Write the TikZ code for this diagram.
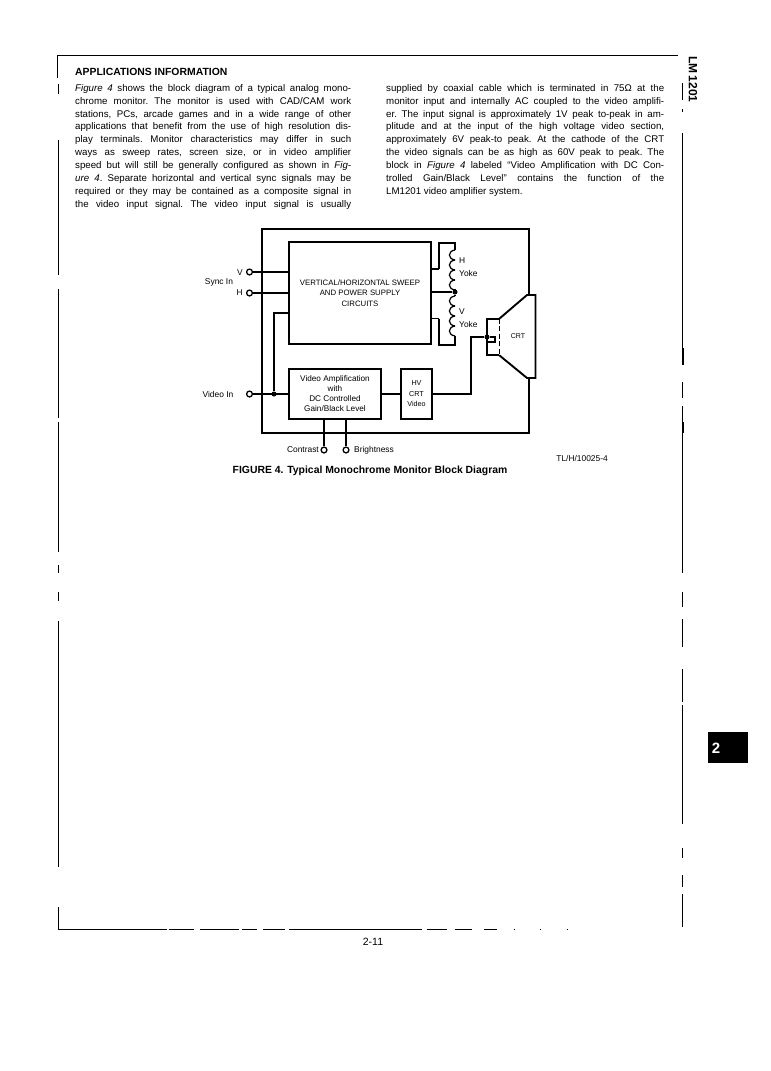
\documentclass[tikz,border=0pt]{standalone}
\usepackage{fontspec}
\setmainfont{Liberation Sans}
\newcommand{\jA}[1]{\hbox to 276pt{#1}}
\newcommand{\jB}[1]{\hbox to 278pt{#1}}
\tikzset{
  wire/.style={line width=1.7pt,line cap=butt},
  thinwire/.style={line width=1.2pt},
  blockbox/.style={draw,line width=1.9pt,inner sep=0pt,align=center},
  pin/.style={circle,draw,fill=white,line width=1.3pt,inner sep=0pt,minimum size=5.8pt},
  jdot/.style={circle,fill=black,inner sep=0pt,minimum size=5pt},
  lab/.style={inner sep=0pt,font=\fontsize{8.4}{9}\selectfont},
  rule/.style={line width=0.9pt},
  bodytext/.style={inner sep=0pt,anchor=north west,align=left,font=\frenchspacing\fontsize{9.7}{12.9}\selectfont},
}
\begin{document}
\begin{tikzpicture}[x=1pt,y=-1pt]
\useasboundingbox (0,0) rectangle (771,1071);
% page frame
\draw[rule] (57,78) -- (57,55.5) -- (678,55.5);
\foreach \a/\b in {84/94,140/275,289/418,422/552,565/573,592/601,621/867}
  \draw[rule] (58,\a) -- (58,\b);
\draw[rule] (58,907) -- (58,929) -- (167,929);
\foreach \a/\b in {168.5/194,200/239,242/257,263/285,289/422,426.5/447,454.5/472,484/496.5,513.5/514.5,540/541,566.5/567.5}
  \draw[rule] (\a,929) -- (\b,929);
\foreach \a/\b in {83/100,109/112,133/348,352/364,382/398,406/573,592/607,619/647,669/702,705/824,848/858,875/887,894/927}
  \draw[rule] (682.5,\a) -- (682.5,\b);
\draw[line width=2pt] (682.5,348) -- (682.5,365) (682.5,422) -- (682.5,433);
% side text and tab
\node[inner sep=0pt,rotate=-90,font=\bfseries\fontsize{12}{12}\selectfont] (partno) at (693,79.5) {LM\,1201};
\node[fill=black,minimum width=40pt,minimum height=31pt,inner sep=0pt] (tab) at (728,747.5) {};
\node[inner sep=0pt,text=white,font=\bfseries\fontsize{15}{15}\selectfont] (tabnum) at (716,748) {2};
% text columns
\node[inner sep=0pt,anchor=west,font=\bfseries\fontsize{10.4}{11}\selectfont] (head) at (75,72) {APPLICATIONS INFORMATION};
\node[bodytext] (colA) at (75,84) {%
\jA{\textit{Figure 4} shows the block diagram of a typical analog mono-}\\
\jA{chrome monitor. The monitor is used with CAD/CAM work}\\
\jA{stations, PCs, arcade games and in a wide range of other}\\
\jA{applications that benefit from the use of high resolution dis-}\\
\jA{play terminals. Monitor characteristics may differ in such}\\
\jA{ways as sweep rates, screen size, or in video amplifier}\\
\jA{speed but will still be generally configured as shown in \textit{Fig-}}\\
\jA{\textit{ure 4}. Separate horizontal and vertical sync signals may be}\\
\jA{required or they may be contained as a composite signal in}\\
\jA{the video input signal. The video input signal is usually}};
\node[bodytext] (colB) at (386,84) {%
\jB{supplied by coaxial cable which is terminated in 75Ω at the}\\
\jB{monitor input and internally AC coupled to the video amplifi-}\\
\jB{er. The input signal is approximately 1V peak to-peak in am-}\\
\jB{plitude and at the input of the high voltage video section,}\\
\jB{approximately 6V peak-to peak. At the cathode of the CRT}\\
\jB{the video signals can be as high as 60V peak to peak. The}\\
\jB{block in \textit{Figure 4} labeled ``Video Amplification with DC Con-}\\
\jB{trolled Gain/Black Level'' contains the function of the}\\
LM1201 video amplifier system.};
% diagram blocks
\draw[line width=1.9pt] (529,295) -- (529,229) -- (262,229) -- (262,433) -- (529,433) -- (529,378);
\node[blockbox,minimum width=142.5pt,minimum height=102pt,font=\fontsize{7.8}{10.5}\selectfont] (sweep) at (360,293) {VERTICAL/HORIZONTAL SWEEP\\AND POWER SUPPLY\\CIRCUITS};
\node[blockbox,minimum width=92.5pt,minimum height=50pt,line width=1.6pt,font=\fontsize{8.2}{10}\selectfont] (vamp) at (335,394) {Video Amplification\\with\\DC Controlled\\Gain/Black Level};
\node[blockbox,minimum width=31pt,minimum height=50pt,line width=1.6pt,font=\fontsize{7.2}{10.5}\selectfont] (hv) at (416.5,394) {HV\\CRT\\Video};
\node[inner sep=0pt,font=\bfseries\fontsize{10.4}{11}\selectfont] (cap) at (370,471) {FIGURE 4. Typical Monochrome Monitor Block Diagram};
% pins and points
\node[pin] (pinV) at (249.5,272) {};
\node[pin] (pinH) at (249.5,293) {};
\node[pin] (pinVid) at (249.5,394) {};
\node[pin] (pinCon) at (324,450) {};
\node[pin] (pinBri) at (346,450) {};
\node[jdot] (jVid) at (274,394) {};
\node[jdot] (jYoke) at (455,292) {};
\node[jdot] (jCrt) at (487,337) {};
\coordinate (sweepIn) at (288.5,313);
\coordinate (yokeTopIn) at (431,269);
\coordinate (yokeBotIn) at (431,318.5);
% connectors
\draw[wire] (pinV) -- (pinV -| sweep.west);
\draw[wire] (pinH) -- (pinH -| sweep.west);
\draw[wire] (pinVid) -- (vamp.west);
\draw[thinwire] (jVid) -- (274,313) -- (sweepIn);
\draw[wire] (vamp.east) -- (hv.west);
\draw[thinwire] (hv.east) -- (471,394) -- (471,337) -- (jCrt);
\draw[thinwire] (jCrt) -- (495,337) -- (495,342) -- (488,342);
\draw[thinwire] (pinCon) -- (pinCon |- vamp.south);
\draw[thinwire] (pinBri) -- (pinBri |- vamp.south);
\draw[wire] (jYoke) -- (jYoke -| sweep.east);
% yoke windings
\draw[wire] (yokeTopIn) -- (439,269);
\draw[thinwire] (439,269) -- (439,243) -- (455,243) -- (455,250);
\draw[wire] (yokeBotIn) -- (439,318.5);
\draw[thinwire] (439,318.5) -- (439,345) -- (455,345) -- (455,336);
\foreach \s in {250,260,270,280,296,306,316,326}
  \draw[thinwire] (455,\s) .. controls (447.5,\s+1) and (447.5,\s+9) .. (455,\s+10);
\draw[thinwire] (455,290) -- (jYoke) -- (455,296);
% CRT
\node[minimum width=12pt,minimum height=36pt,inner sep=0pt] (neck) at (493,337) {};
\draw[line width=1.9pt] (neck.north east) -- (neck.north west) -- (neck.south west) -- (neck.south east);
\draw[line width=1.9pt] (neck.north east) -- (527,295) -- (535.5,295) -- (535.5,378) -- (527,378) -- (neck.south east);
\draw[line width=1.2pt,dash pattern=on 5pt off 2.5pt] (neck.north east) -- (neck.south east);
% labels
\node[lab,anchor=east] (lV) at (243,272.5) {V};
\node[lab,anchor=east] (lH) at (243,293) {H};
\node[lab] (lSync) at (219,282) {Sync In};
\node[lab] (lVid) at (218,394) {Video In};
\node[lab,anchor=east] (lCon) at (319,450) {Contrast};
\node[lab,anchor=west] (lBri) at (354,450) {Brightness};
\node[lab,anchor=west] (lHy) at (459,261) {H};
\node[lab,anchor=west] (lHy2) at (459,273) {Yoke};
\node[lab,anchor=west] (lVy) at (459,312) {V};
\node[lab,anchor=west] (lVy2) at (459,324) {Yoke};
\node[lab,font=\fontsize{7}{8}\selectfont] (lCrt) at (518,336) {CRT};
\node[lab,anchor=east,font=\fontsize{8.4}{9}\selectfont] (lCode) at (608,458) {TL/H/10025-4};
\node[lab,font=\fontsize{10.5}{11}\selectfont] (pg) at (373,942) {2-11};
\end{tikzpicture}
\end{document}
